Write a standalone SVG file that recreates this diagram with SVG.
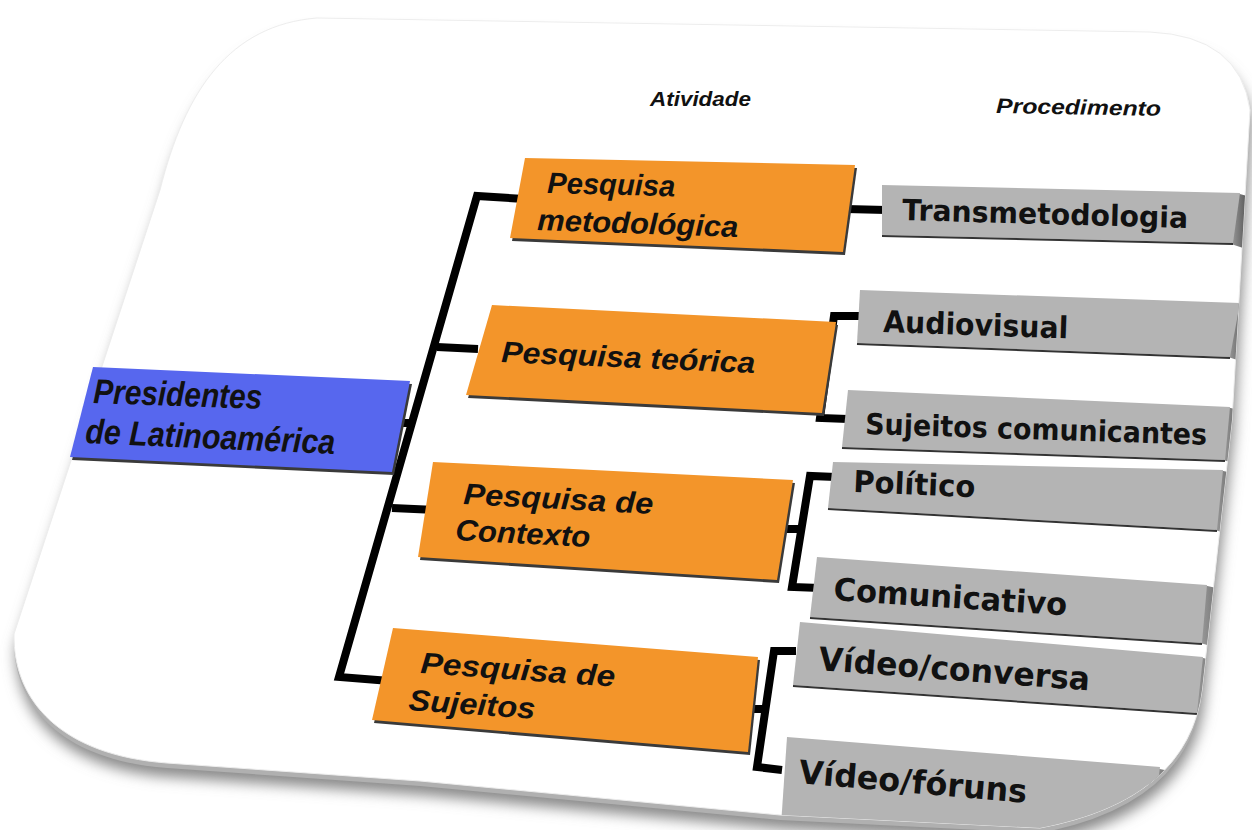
<svg xmlns="http://www.w3.org/2000/svg" width="1252" height="830" viewBox="0 0 1252 830">
<defs>
<style>
.orange{fill:#F3952A;}
.blue{fill:#5767EE;}
.gray{fill:#B4B4B4;}
.edge{fill:#3a3a3a;}
.side{fill:url(#sideGrad);}
.bline{stroke:#333;stroke-width:2;}
.lbl{font-family:"Liberation Sans",Arial,sans-serif;font-weight:bold;font-style:italic;fill:#111;}
.glbl{font-family:"DejaVu Sans","Liberation Sans",sans-serif;font-weight:bold;fill:#111;}
.hdr{font-family:"Liberation Sans",Arial,sans-serif;font-weight:bold;font-style:italic;font-size:21px;fill:#111;}
.conn{fill:none;stroke:#000;stroke-width:8;stroke-linejoin:miter;stroke-linecap:butt;}
</style>
<linearGradient id="sideGrad" x1="0" y1="0" x2="1" y2="0">
<stop offset="0" stop-color="#9a9a9a"/>
<stop offset="0.5" stop-color="#5a5a5a"/>
<stop offset="1" stop-color="#1e1e1e"/>
</linearGradient>
<filter id="cardShadow" x="-10%" y="-10%" width="120%" height="125%">
<feGaussianBlur stdDeviation="7"/>
</filter>
<path id="cardPath" d="M317,18 L1150,32 Q1240,36 1250,110 L1232,420 L1202,690 Q1188,800 1040,828 L780,815 L420,781 L167,763 C60,755 13,700 14,634 L160,190 C185,90 230,25 317,18 Z"/>
<clipPath id="cardClip">
<use href="#cardPath"/>
</clipPath>
</defs>
<rect width="1252" height="830" fill="#fff"/>
<g id="card">
<use href="#cardPath" transform="translate(2,14)" fill="#8a8a8a" filter="url(#cardShadow)"/>
<use href="#cardPath" transform="translate(0,5)" fill="#b0b0b0"/>
<use href="#cardPath" fill="#fff" stroke="#ededed" stroke-width="1"/>
</g>
<g id="headers">
<text class="hdr" x="650" y="106" textLength="101" lengthAdjust="spacingAndGlyphs">Atividade</text>
<text class="hdr" x="996" y="113" textLength="165" lengthAdjust="spacingAndGlyphs" transform="rotate(1 996 113)">Procedimento</text>
</g>
<g id="connectors">
<polyline class="conn" points="524,199 477,196 339,677 390,681"/>
<line class="conn" x1="437" y1="347" x2="478" y2="349"/>
<line class="conn" x1="398" y1="423" x2="415" y2="423"/>
<line class="conn" x1="392" y1="508" x2="436" y2="510"/>
<line class="conn" x1="846" y1="209" x2="886" y2="210"/>
<polyline class="conn" points="862,316 834,316 820,418 848,419"/>
<line class="conn" x1="812" y1="365" x2="828" y2="365"/>
<polyline class="conn" points="836,477 810,476 792,587 820,588"/>
<line class="conn" x1="776" y1="529" x2="800" y2="529"/>
<polyline class="conn" points="796,651 774,651 757,767 782,770"/>
<line class="conn" x1="746" y1="709" x2="765" y2="709"/>
</g>
<g id="node-presidentes">
<polygon class="edge" points="95,371 412,384 394,475 72,460"/>
<polygon class="blue" points="93,367 410,381 392,472 70,457"/>
<text class="lbl" font-size="30" textLength="169" lengthAdjust="spacingAndGlyphs" transform="translate(93,403) rotate(2) scale(1,1.15)">Presidentes</text>
<text class="lbl" font-size="30" textLength="250" lengthAdjust="spacingAndGlyphs" transform="translate(85,443) rotate(2.5) scale(1,1.15)">de Latinoamérica</text>
</g>
<g id="node-metodologica">
<polygon class="edge" points="527,161 857,168 845,255 512,241"/>
<polygon class="orange" points="525,158 855,165 843,252 510,238"/>
<text class="lbl" font-size="27" textLength="128" lengthAdjust="spacingAndGlyphs" transform="translate(547,193) rotate(1.5) scale(1,1.1)">Pesquisa</text>
<text class="lbl" font-size="27" textLength="201" lengthAdjust="spacingAndGlyphs" transform="translate(537,230) rotate(2) scale(1,1.1)">metodológica</text>
</g>
<g id="node-teorica">
<polygon class="edge" points="494,308 838,325 824,416 468,398"/>
<polygon class="orange" points="492,305 836,322 822,413 466,395"/>
<text class="lbl" font-size="27" textLength="254" lengthAdjust="spacingAndGlyphs" transform="translate(501,362) rotate(2.5) scale(1,1.1)">Pesquisa teórica</text>
</g>
<g id="node-contexto">
<polygon class="edge" points="435,465 795,483 779,583 420,560"/>
<polygon class="orange" points="433,462 793,480 777,580 418,557"/>
<text class="lbl" font-size="27" textLength="190" lengthAdjust="spacingAndGlyphs" transform="translate(463,504) rotate(3) scale(1,1.1)">Pesquisa de</text>
<text class="lbl" font-size="27" textLength="135" lengthAdjust="spacingAndGlyphs" transform="translate(455,540) rotate(3) scale(1,1.1)">Contexto</text>
</g>
<g id="node-sujeitos">
<polygon class="edge" points="395,631 760,660 750,755 374,723"/>
<polygon class="orange" points="393,628 758,657 748,752 372,720"/>
<text class="lbl" font-size="27" textLength="195" lengthAdjust="spacingAndGlyphs" transform="translate(420,673) rotate(4) scale(1,1.1)">Pesquisa de</text>
<text class="lbl" font-size="27" textLength="127" lengthAdjust="spacingAndGlyphs" transform="translate(408,710) rotate(4) scale(1,1.1)">Sujeitos</text>
</g>
<g clip-path="url(#cardClip)">
<g id="node-transmetodologia">
<polygon class="side" points="1236,193 1262,200 1262,254 1231,244"/>
<polygon class="gray" points="882,185 1240,193 1233,243 882,235"/>
<line class="bline" x1="882" y1="236" x2="1233" y2="244"/>
<text class="glbl" font-size="26" textLength="286" lengthAdjust="spacingAndGlyphs" transform="translate(902,220) rotate(1.6) scale(1,1.12)">Transmetodologia</text>
</g>
<g id="node-audiovisual">
<polygon class="side" points="1236,303 1262,310 1262,368 1228,357"/>
<polygon class="gray" points="860,290 1240,303 1230,357 857,343"/>
<line class="bline" x1="857" y1="344" x2="1230" y2="358"/>
<text class="glbl" font-size="27" textLength="185" lengthAdjust="spacingAndGlyphs" transform="translate(883,332) rotate(2) scale(1,1.12)">Audiovisual</text>
</g>
<g id="node-sujeitos-comunicantes">
<polygon class="side" points="1226,407 1262,415 1262,472 1223,460"/>
<polygon class="gray" points="848,390 1230,407 1225,460 842,447"/>
<line class="bline" x1="842" y1="448" x2="1225" y2="461"/>
<text class="glbl" font-size="26" textLength="342" lengthAdjust="spacingAndGlyphs" transform="translate(865,434) rotate(1.8) scale(1,1.12)">Sujeitos comunicantes</text>
</g>
<g id="node-politico">
<polygon class="side" points="1219,470 1262,480 1262,545 1215,530"/>
<polygon class="gray" points="833,462 1223,470 1217,530 828,508"/>
<line class="bline" x1="828" y1="509" x2="1217" y2="531"/>
<text class="glbl" font-size="27" textLength="122" lengthAdjust="spacingAndGlyphs" transform="translate(853,492) rotate(2.5) scale(1,1.12)">Político</text>
</g>
<g id="node-comunicativo">
<polygon class="side" points="1203,585 1262,598 1262,660 1200,643"/>
<polygon class="gray" points="817,557 1207,585 1202,643 810,617"/>
<line class="bline" x1="810" y1="618" x2="1202" y2="644"/>
<text class="glbl" font-size="28" textLength="234" lengthAdjust="spacingAndGlyphs" transform="translate(833,600) rotate(3.8) scale(1,1.12)">Comunicativo</text>
</g>
<g id="node-video-conversa">
<polygon class="side" points="1199,657 1262,672 1262,732 1195,713"/>
<polygon class="gray" points="800,622 1203,657 1197,713 793,685"/>
<line class="bline" x1="793" y1="686" x2="1197" y2="714"/>
<text class="glbl" font-size="29" textLength="272" lengthAdjust="spacingAndGlyphs" transform="translate(818,670) rotate(4.3) scale(1,1.12)">Vídeo/conversa</text>
</g>
<g id="node-video-foruns">
<polygon class="side" points="1150,767 1262,790 1262,845 1140,840"/>
<polygon class="gray" points="787,737 1160,767 1150,845 780,840"/>
<text class="glbl" font-size="29" textLength="229" lengthAdjust="spacingAndGlyphs" transform="translate(798,783) rotate(5) scale(1,1.12)">Vídeo/fóruns</text>
</g>
</g>
</svg>
